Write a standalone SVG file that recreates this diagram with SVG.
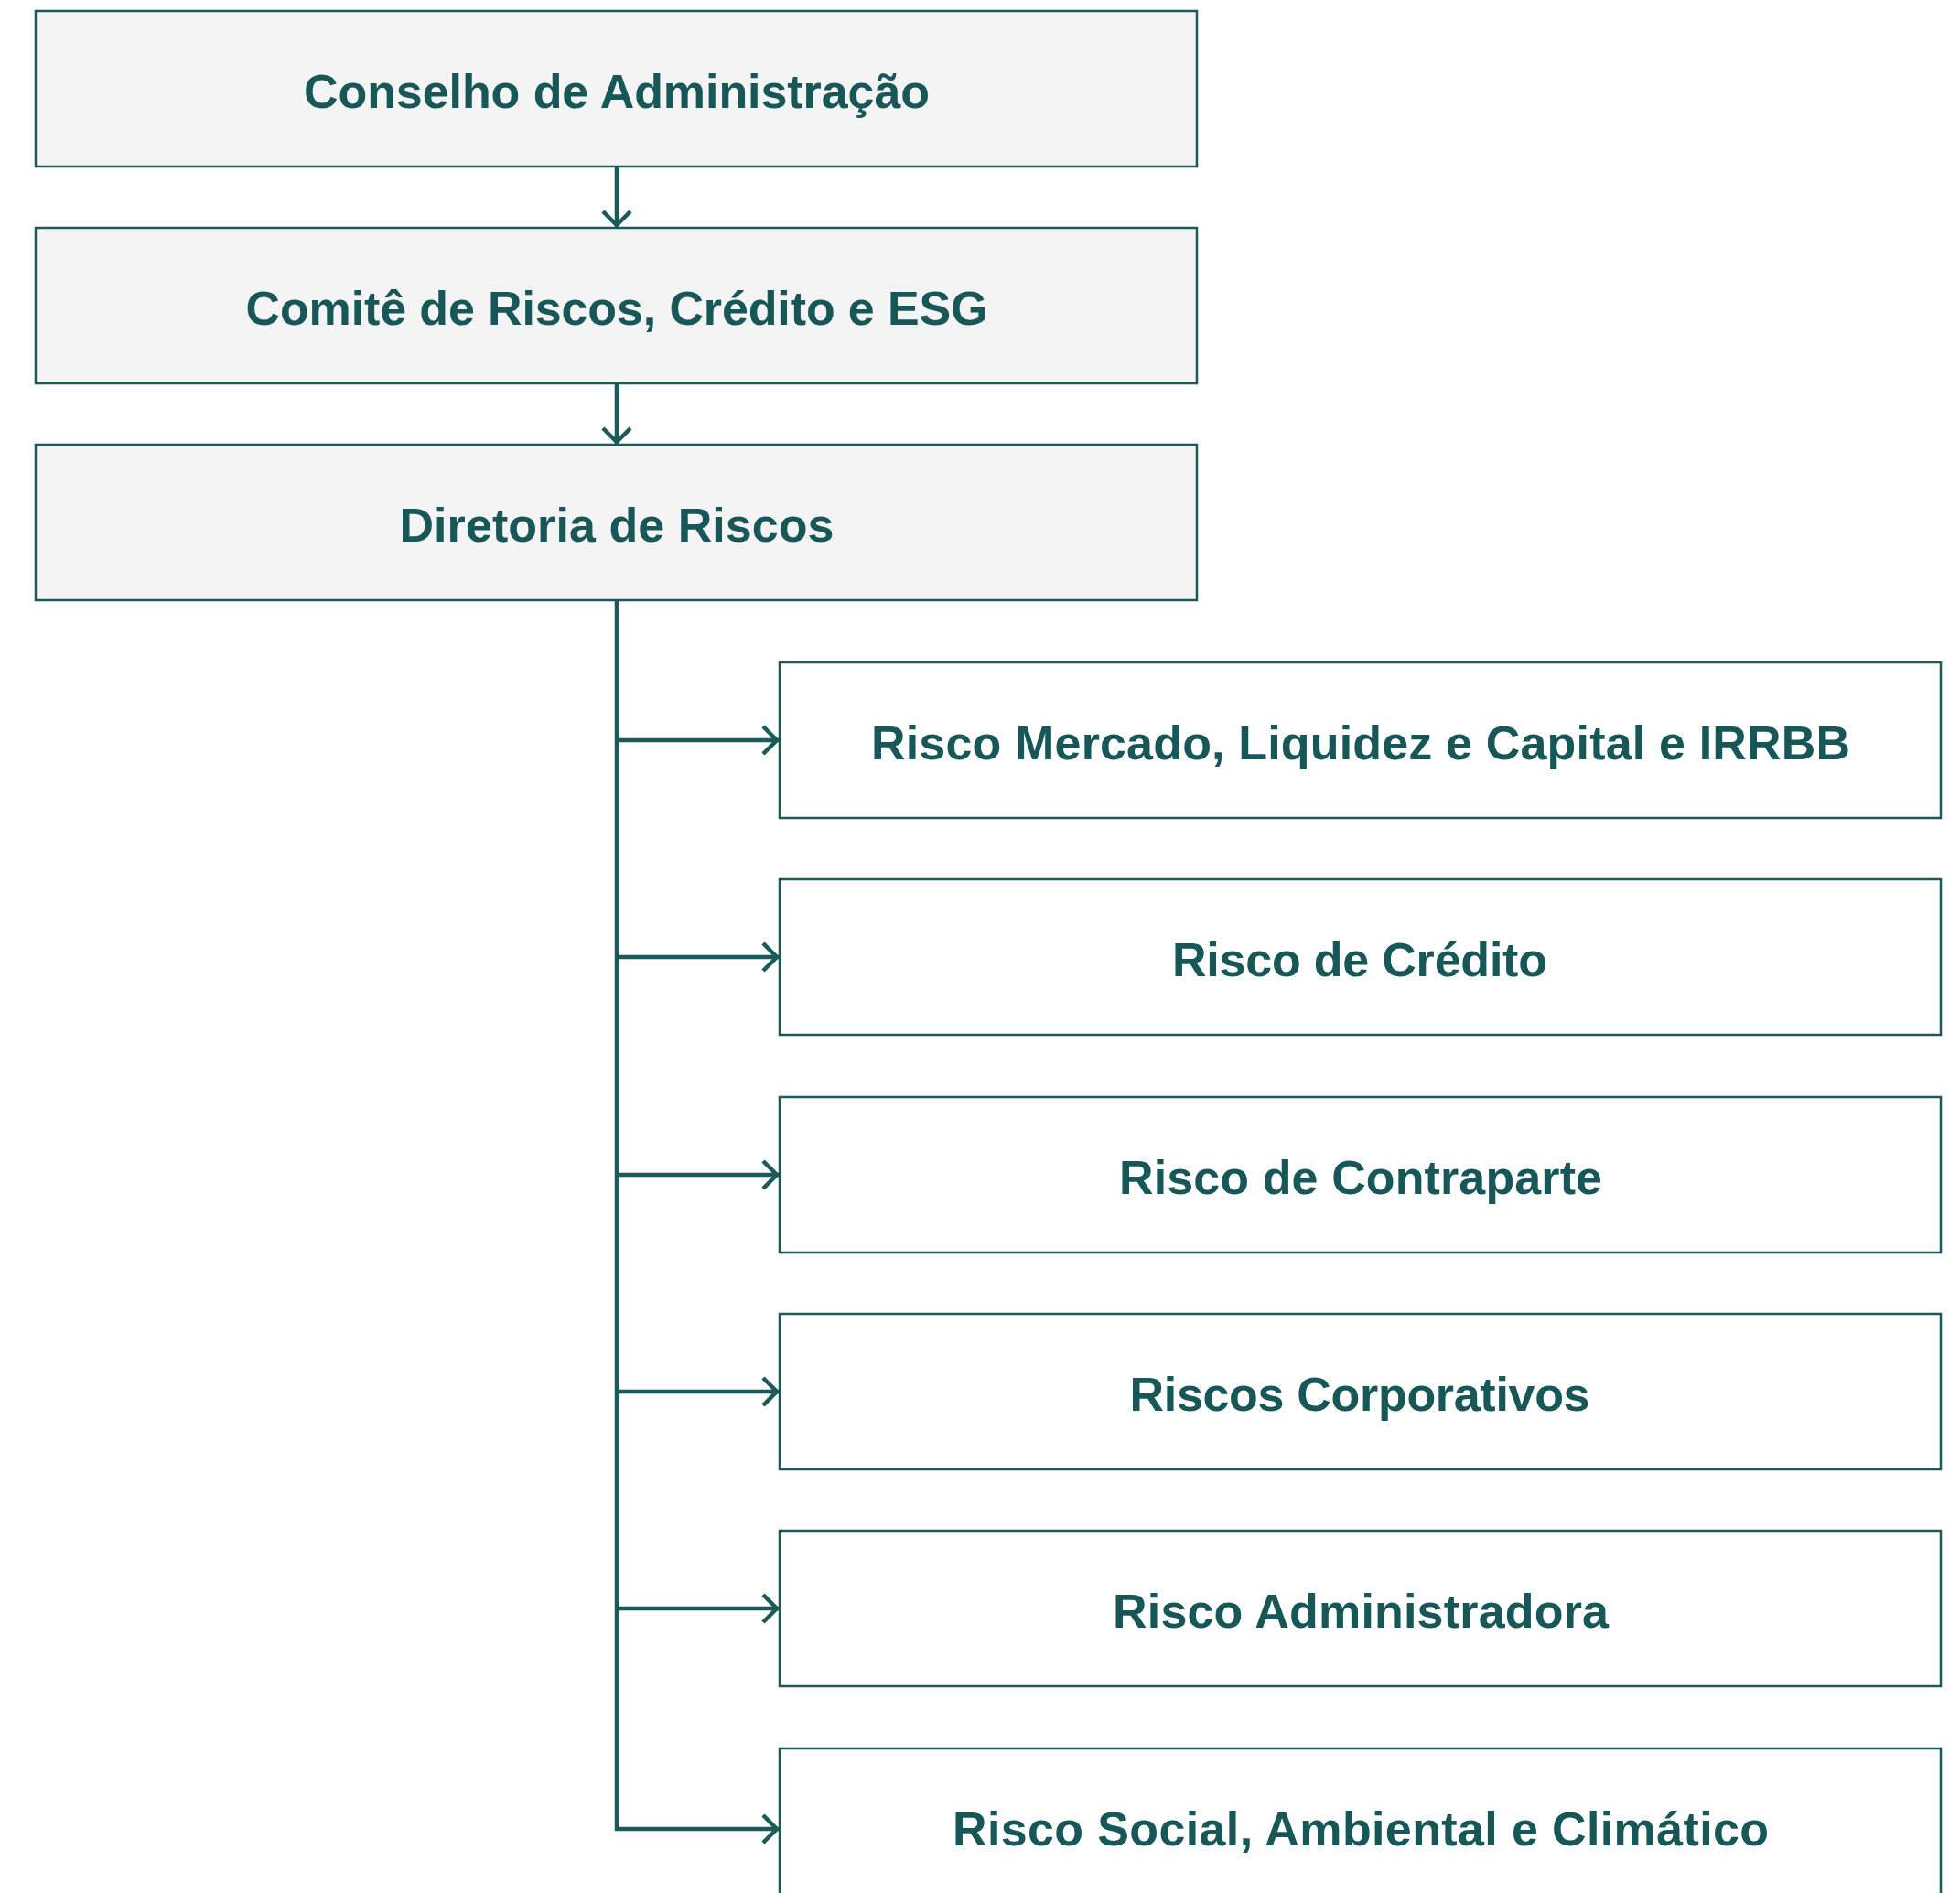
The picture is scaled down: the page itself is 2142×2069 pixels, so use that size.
<svg xmlns="http://www.w3.org/2000/svg" width="2142" height="2069" viewBox="0 0 2142 2069">
<style>
.top rect{fill:#f4f4f4;stroke:#1a5a58;stroke-width:2.5}
.child rect{fill:#ffffff;stroke:#1a5a58;stroke-width:2.5}
text{font-family:"Liberation Sans",Arial,sans-serif;font-weight:bold;font-size:52px;fill:#175757;text-anchor:middle}
.conn{fill:none;stroke:#1a5a58;stroke-width:4.5}
</style>
<defs>
<marker id="arr" markerUnits="userSpaceOnUse" markerWidth="40" markerHeight="40" refX="20" refY="20" orient="auto">
<path d="M3,5 L18,20 L3,35" fill="none" stroke="#1a5a58" stroke-width="4.5"/>
</marker>
</defs>
<rect width="2142" height="2069" fill="#ffffff"/>
<g id="conselho" class="top"><rect x="39" y="12" width="1269" height="170"/><text x="674" y="118" textLength="684" lengthAdjust="spacing">Conselho de Administração</text></g>
<g id="comite" class="top"><rect x="39" y="249" width="1269" height="170"/><text x="674" y="355" textLength="811" lengthAdjust="spacing">Comitê de Riscos, Crédito e ESG</text></g>
<g id="diretoria" class="top"><rect x="39" y="486" width="1269" height="170"/><text x="674" y="592" textLength="475" lengthAdjust="spacing">Diretoria de Riscos</text></g>
<g id="mercado" class="child"><rect x="852" y="724" width="1269" height="170"/><text x="1487" y="830" textLength="1070" lengthAdjust="spacing">Risco Mercado, Liquidez e Capital e IRRBB</text></g>
<g id="credito" class="child"><rect x="852" y="961" width="1269" height="170"/><text x="1486" y="1067" textLength="410" lengthAdjust="spacing">Risco de Crédito</text></g>
<g id="contraparte" class="child"><rect x="852" y="1199" width="1269" height="170"/><text x="1487" y="1305" textLength="528" lengthAdjust="spacing">Risco de Contraparte</text></g>
<g id="corporativos" class="child"><rect x="852" y="1436" width="1269" height="170"/><text x="1486" y="1542" textLength="503" lengthAdjust="spacing">Riscos Corporativos</text></g>
<g id="administradora" class="child"><rect x="852" y="1673" width="1269" height="170"/><text x="1487" y="1779" textLength="542" lengthAdjust="spacing">Risco Administradora</text></g>
<g id="social" class="child"><rect x="852" y="1911" width="1269" height="170"/><text x="1487" y="2017" textLength="892" lengthAdjust="spacing">Risco Social, Ambiental e Climático</text></g>
<g id="connectors" class="conn">
<path d="M674,182 V248" marker-end="url(#arr)"/>
<path d="M674,419 V485" marker-end="url(#arr)"/>
<path d="M674,656 V1999 H851" marker-end="url(#arr)"/>
<path d="M674,809 H851" marker-end="url(#arr)"/>
<path d="M674,1046 H851" marker-end="url(#arr)"/>
<path d="M674,1284 H851" marker-end="url(#arr)"/>
<path d="M674,1521 H851" marker-end="url(#arr)"/>
<path d="M674,1758 H851" marker-end="url(#arr)"/>
</g>
</svg>
